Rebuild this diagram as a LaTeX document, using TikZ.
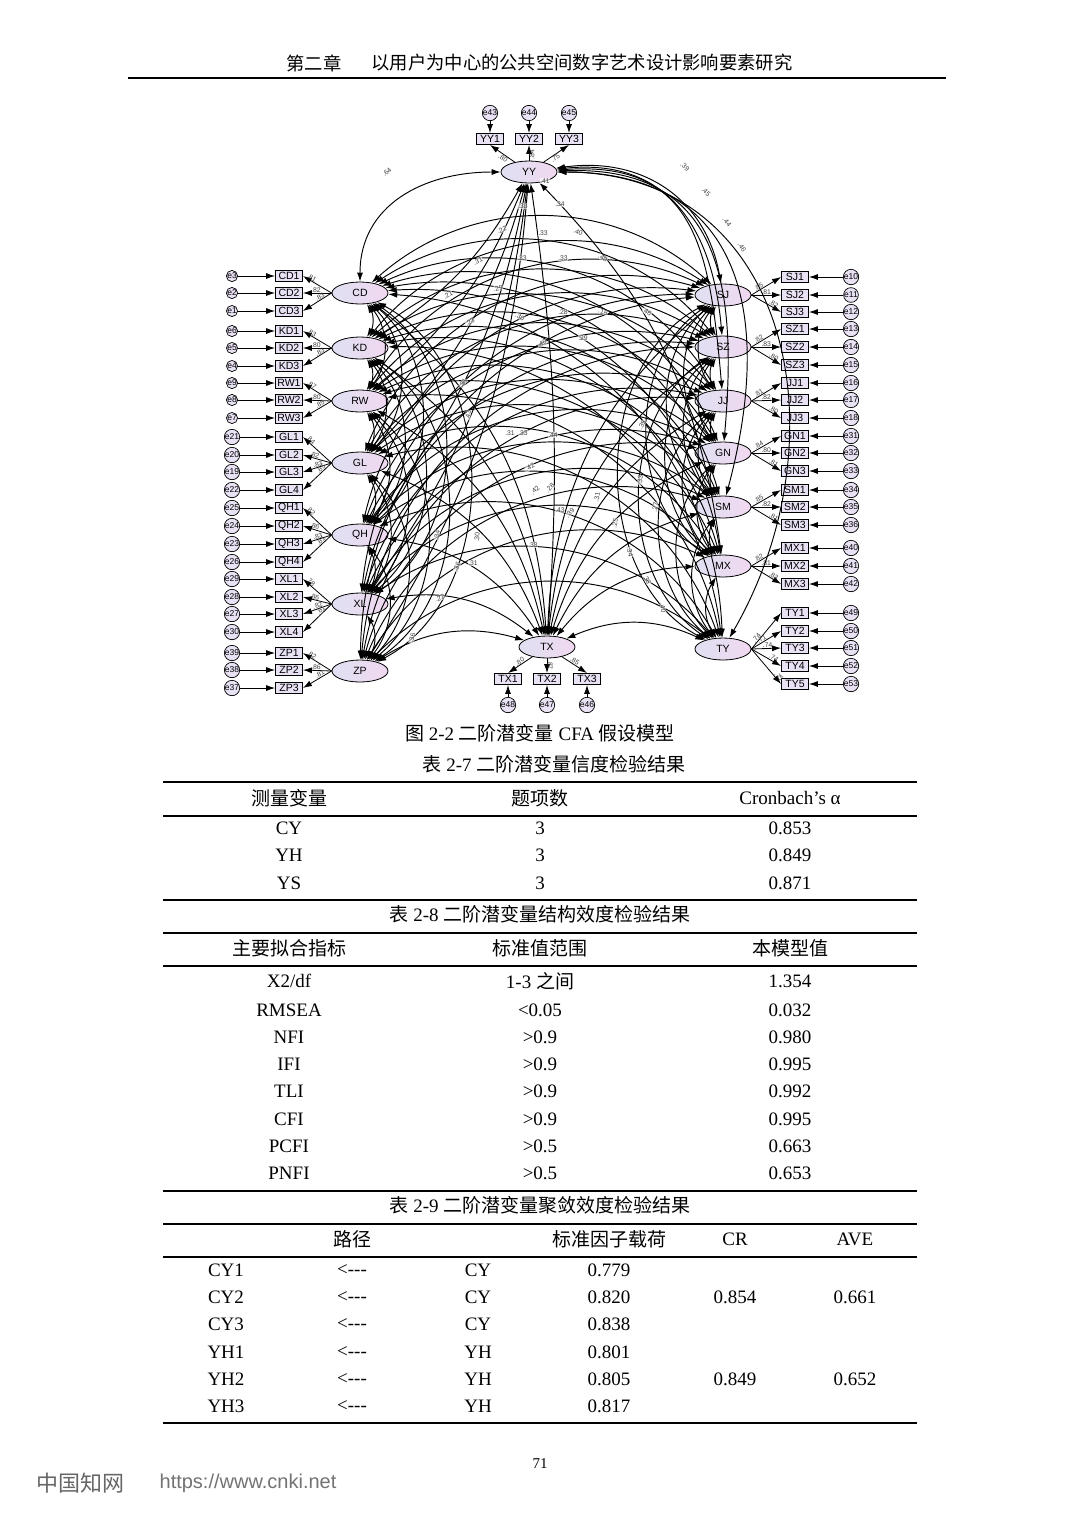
\documentclass[tikz,border=0pt]{standalone}
\usepackage{fontspec}
\setmainfont{Liberation Serif}
\setsansfont{Liberation Sans}
\newfontfamily\cjk{Noto Sans CJK SC}
\usetikzlibrary{shapes.geometric,arrows.meta}
\definecolor{lav}{HTML}{E9E1F4}
\definecolor{latL}{HTML}{E0E0F2}
\definecolor{latR}{HTML}{F0D8F0}
\begin{document}
\begin{tikzpicture}[x=1pt,y=-1pt,>={Latex[length=9pt,width=6pt]},
  lat/.style={ellipse,draw=black,line width=0.8pt,minimum width=56pt,minimum height=22pt,inner sep=0pt,left color=latL,right color=latR,font=\sffamily\fontsize{10.5}{10.5}\selectfont},
  ind/.style={rectangle,draw=black,line width=0.9pt,fill=lav,minimum width=27pt,minimum height=11pt,inner sep=0pt,font=\sffamily\fontsize{10.5}{10.5}\selectfont},
  err/.style={circle,draw=black,line width=0.7pt,fill=lav,minimum size=11pt,inner sep=0pt,font=\sffamily\fontsize{8.5}{8.5}\selectfont},
  load/.style={->,line width=0.8pt},
  cov/.style={<->,line width=0.95pt},
  lbl/.style={font=\sffamily\fontsize{6.8}{6.8}\selectfont,text=black!75,inner sep=0.3pt},
  hdr/.style={font=\fontsize{18.3}{18.3}\selectfont,inner sep=0pt},
  body/.style={font=\fontsize{19}{19}\selectfont,inner sep=0pt},
  thick rule/.style={line width=2.6pt},
  thin rule/.style={line width=1.3pt}]
\fill[white] (0,0) rectangle (1080,1527);
\useasboundingbox (0,0) rectangle (1080,1527);

% ---------------- header
\node[hdr] (h1) at (314,63) {\cjk 第二章};
\node[hdr] (h2) at (582,63) {\cjk 以用户为中心的公共空间数字艺术设计影响要素研究};
\draw[line width=1.4pt] (128,78) -- (946,78);

% ---------------- latent factors
\foreach \n/\y in {CD/293,KD/348,RW/401,GL/463,QH/535,XL/604,ZP/671}
  \node[lat] (\n) at (360,\y) {\n};
\foreach \n/\y in {SJ/295,SZ/347,JJ/401,GN/453,SM/507,MX/566,TY/649}
  \node[lat] (\n) at (723,\y) {\n};
\node[lat] (YY) at (529,172) {YY};
\node[lat] (TX) at (547,647) {TX};

% ---------------- left indicators
\foreach \n/\y/\e/\l/\v/\p in {CD1/276/e3/CD/.81/0.75,CD2/293/e2/CD/.82/0.55,CD3/311/e1/CD/.83/0.35,
  KD1/331/e6/KD/.83/0.75,KD2/348/e5/KD/.80/0.55,KD3/366/e4/KD/.83/0.35,
  RW1/383/e9/RW/.87/0.75,RW2/400/e8/RW/.80/0.55,RW3/418/e7/RW/.85/0.35,
  GL1/437/e21/GL/.84/0.8,GL2/455/e20/GL/.82/0.62,GL3/472/e19/GL/.83/0.45,GL4/490/e22/GL/.85/0.3,
  QH1/508/e25/QH/.82/0.8,QH2/526/e24/QH/.86/0.62,QH3/544/e23/QH/.83/0.45,QH4/562/e26/QH/.81/0.3,
  XL1/579/e29/XL/.78/0.8,XL2/597/e28/XL/.86/0.62,XL3/614/e27/XL/.82/0.45,XL4/632/e30/XL/.81/0.3,
  ZP1/653/e39/ZP/.82/0.75,ZP2/670/e38/ZP/.86/0.55,ZP3/688/e37/ZP/.81/0.35}{
  \node[ind] (\n) at (289,\y) {\n};
  \node[err] (\e) at (232,\y) {\e};
  \draw[load] (\e) -- (\n);
  \draw[load] (\l.west) -- (\n.east) node[lbl,pos=\p,sloped,above]{\v};
}

% ---------------- right indicators
\foreach \n/\y/\e/\l/\v/\p in {SJ1/277/e10/SJ/.85/0.3,SJ2/295/e11/SJ/.81/0.5,SJ3/312/e12/SJ/.82/0.7,
  SZ1/329/e13/SZ/.82/0.3,SZ2/347/e14/SZ/.83/0.5,SZ3/365/e15/SZ/.80/0.7,
  JJ1/383/e16/JJ/.81/0.3,JJ2/400/e17/JJ/.82/0.5,JJ3/418/e18/JJ/.80/0.7,
  GN1/436/e31/GN/.84/0.3,GN2/453/e32/GN/.80/0.5,GN3/471/e33/GN/.81/0.7,
  SM1/490/e34/SM/.85/0.3,SM2/507/e35/SM/.82/0.5,SM3/525/e36/SM/.81/0.7,
  MX1/548/e40/MX/.82/0.3,MX2/566/e41/MX/.81/0.5,MX3/584/e42/MX/.83/0.7,
  TY1/613/e49/TY/.74/0.25,TY2/631/e50/TY/.71/0.4,TY3/648/e51/TY/.74/0.55,TY4/666/e52/TY/.74/0.7,TY5/684/e53/TY/.75/0.85}{
  \node[ind] (\n) at (795,\y) {\n};
  \node[err] (\e) at (851,\y) {\e};
  \draw[load] (\e) -- (\n);
  \draw[load] (\l.east) -- (\n.west) node[lbl,pos=\p,sloped,above]{\v};
}

% ---------------- YY indicators
\foreach \n/\x/\e/\v in {YY1/490/e43/.80,YY2/529/e44/.84,YY3/569/e45/.75}{
  \node[ind] (\n) at (\x,139) {\n};
  \node[err] (\e) at (\x,113) {\e};
  \draw[load] (\e) -- (\n);
  \draw[load] (YY) -- (\n.south) node[lbl,pos=0.4,sloped,below]{\v};
}
% ---------------- TX indicators
\foreach \n/\x/\e/\v in {TX1/508/e48/.80,TX2/547/e47/.87,TX3/587/e46/.85}{
  \node[ind] (\n) at (\x,679) {\n};
  \node[err] (\e) at (\x,705) {\e};
  \draw[load] (\e) -- (\n);
  \draw[load] (TX) -- (\n.north) node[lbl,pos=0.45,sloped,above]{\v};
}

% ---------------- covariances
% left-left
\foreach \a [count=\i] in {CD,KD,RW,GL,QH,XL,ZP}{
  \foreach \b [count=\j] in {CD,KD,RW,GL,QH,XL,ZP}{
    \ifnum\j>\i
      \pgfmathtruncatemacro\bb{26+6*(\j-\i)}
      \draw[cov] (\a) to[bend left=\bb] (\b);
    \fi
  }
}
% right-right
\foreach \a [count=\i] in {SJ,SZ,JJ,GN,SM,MX,TY}{
  \foreach \b [count=\j] in {SJ,SZ,JJ,GN,SM,MX,TY}{
    \ifnum\j>\i
      \pgfmathtruncatemacro\bb{26+6*(\j-\i)}
      \draw[cov] (\a) to[bend right=\bb] (\b);
    \fi
  }
}
% left-right
\foreach \a in {CD,KD,RW,GL,QH,XL,ZP}{
  \foreach \b in {SJ,SZ,JJ,GN,SM,MX,TY}{
    \draw[cov] (\a) to[bend left=42] (\b);
  }
}
% TX
\foreach \a in {CD,KD,RW,GL,QH,XL,ZP}{\draw[cov] (\a) to[bend left=24] (TX);}
\foreach \a in {SJ,SZ,JJ,GN,SM,MX,TY}{\draw[cov] (\a) to[bend right=24] (TX);}
% YY
\draw[cov] (YY) to[out=180,in=90,looseness=1.1] (CD);
\foreach \a in {KD,RW,GL,QH,XL,ZP}{\draw[cov] (YY) to[bend left=14] (\a);}
\draw[cov] (YY) to[bend left=6] (TX);
\draw[cov] (YY) to[out=8,in=100,looseness=1.1] (SJ);
\draw[cov] (YY) to[out=6,in=95,looseness=1.2] (SZ);
\draw[cov] (YY) to[out=4,in=95,looseness=1.3] (JJ);
\draw[cov] (YY) to[out=2,in=85,looseness=1.3] (GN);
\draw[cov] (YY) to[out=0,in=75,looseness=1.3] (SM);
\draw[cov] (YY) to[bend left=18] (MX);
\draw[cov] (YY) to[out=0,in=60,looseness=1.2] (TY);

% ---------------- covariance labels
\foreach \x/\y/\t/\r in {387/172/.64/40,685/167/.39/-40,706/192/.45/-45,727/222/.44/-50,742/247/.46/-55,
  545/181/.41/0,523/206/.33/0,560/204/.34/0,502/230/.22/20,543/233/.33/0,578/232/.40/-20,
  478/261/.31/25,522/258/.33/0,563/258/.33/0,603/258/.40/-30,498/288/.29/15,448/295/.21/30,
  563/312/.28/0,603/312/.18/-20,647/312/.46/-30,470/322/.23/30,520/317/.30/-30,583/338/.29/0,
  542/343/.40/20,463/383/.31/60,468/415/.43/80,553/435/.44/0,510/433/.31/0,523/433/.33/0,
  530/467/.42/30,535/490/.42/45,550/488/.28/45,560/510/.43/0,570/513/.39/45,533/545/.33/0,
  437/535/.34/80,477/537/.30/85,457/567/.36/70,473/563/.31/0,440/598/.22/20,412/638/.36/75,
  597/497/.31/80,615/523/.25/80,630/552/.34/-80,647/580/.36/-60,663/608/.40/-80,655/507/.27/80,
  640/480/.33/80,642/425/.35/60}{
  \node[lbl,rotate=\r,fill=white,fill opacity=0.6,text opacity=1] at (\x,\y) {\t};
}

% ---------------- captions and tables
\node[body] (cap1) at (540,733) {{\cjk 图} 2-2 {\cjk 二阶潜变量} CFA {\cjk 假设模型}};
\node[body] (cap2) at (554,764) {{\cjk 表} 2-7 {\cjk 二阶潜变量信度检验结果}};
\draw[thick rule] (163,782) -- (917,782);
\node[body] at (289,798) {\cjk 测量变量};
\node[body] at (540,798) {\cjk 题项数};
\node[body] at (790,798) {Cronbach's α};
\draw[thin rule] (163,816) -- (917,816);
\foreach \a/\b/\c/\y in {CY/3/0.853/828,YH/3/0.849/855,YS/3/0.871/883}{
  \node[body] at (289,\y) {\a};
  \node[body] at (540,\y) {\b};
  \node[body] at (790,\y) {\c};
}
\draw[thick rule] (163,900) -- (917,900);

\node[body] (cap3) at (540,914) {{\cjk 表} 2-8 {\cjk 二阶潜变量结构效度检验结果}};
\draw[thick rule] (163,933) -- (917,933);
\node[body] at (289,948) {\cjk 主要拟合指标};
\node[body] at (540,948) {\cjk 标准值范围};
\node[body] at (790,948) {\cjk 本模型值};
\draw[thin rule] (163,966) -- (917,966);
\node[body] at (289,981) {X2/df};
\node[body] at (540,981) {1-3 {\cjk 之间}};
\node[body] at (790,981) {1.354};
\foreach \a/\b/\c/\y in {RMSEA/<0.05/0.032/1010,NFI/>0.9/0.980/1037,IFI/>0.9/0.995/1064,TLI/>0.9/0.992/1091,CFI/>0.9/0.995/1119,PCFI/>0.5/0.663/1146,PNFI/>0.5/0.653/1173}{
  \node[body] at (289,\y) {\a};
  \node[body] at (540,\y) {\b};
  \node[body] at (790,\y) {\c};
}
\draw[thick rule] (163,1191) -- (917,1191);

\node[body] (cap4) at (540,1205) {{\cjk 表} 2-9 {\cjk 二阶潜变量聚敛效度检验结果}};
\draw[thick rule] (163,1224) -- (917,1224);
\node[body] at (352,1239) {\cjk 路径};
\node[body] at (609,1239) {\cjk 标准因子载荷};
\node[body] at (735,1239) {CR};
\node[body] at (855,1239) {AVE};
\draw[thin rule] (163,1257) -- (917,1257);
\foreach \a/\c/\d/\y in {CY1/CY/0.779/1270,CY2/CY/0.820/1297,CY3/CY/0.838/1324,YH1/YH/0.801/1352,YH2/YH/0.805/1379,YH3/YH/0.817/1406}{
  \node[body] at (226,\y) {\a};
  \node[body] at (352,\y) {<{-}{-}{-}};
  \node[body] at (478,\y) {\c};
  \node[body] at (609,\y) {\d};
}
\node[body] at (735,1297) {0.854};
\node[body] at (855,1297) {0.661};
\node[body] at (735,1379) {0.849};
\node[body] at (855,1379) {0.652};
\draw[thin rule] (163,1423) -- (917,1423);

\node[font=\fontsize{15}{15}\selectfont] (pg) at (540,1464) {71};
\node[font=\cjk\fontsize{22}{22}\selectfont,text=black!60] (wm1) at (80,1483) {中国知网};
\node[font=\sffamily\fontsize{20}{20}\selectfont,text=black!55] (wm2) at (248,1483) {https://www.cnki.net};
\end{tikzpicture}
\end{document}
